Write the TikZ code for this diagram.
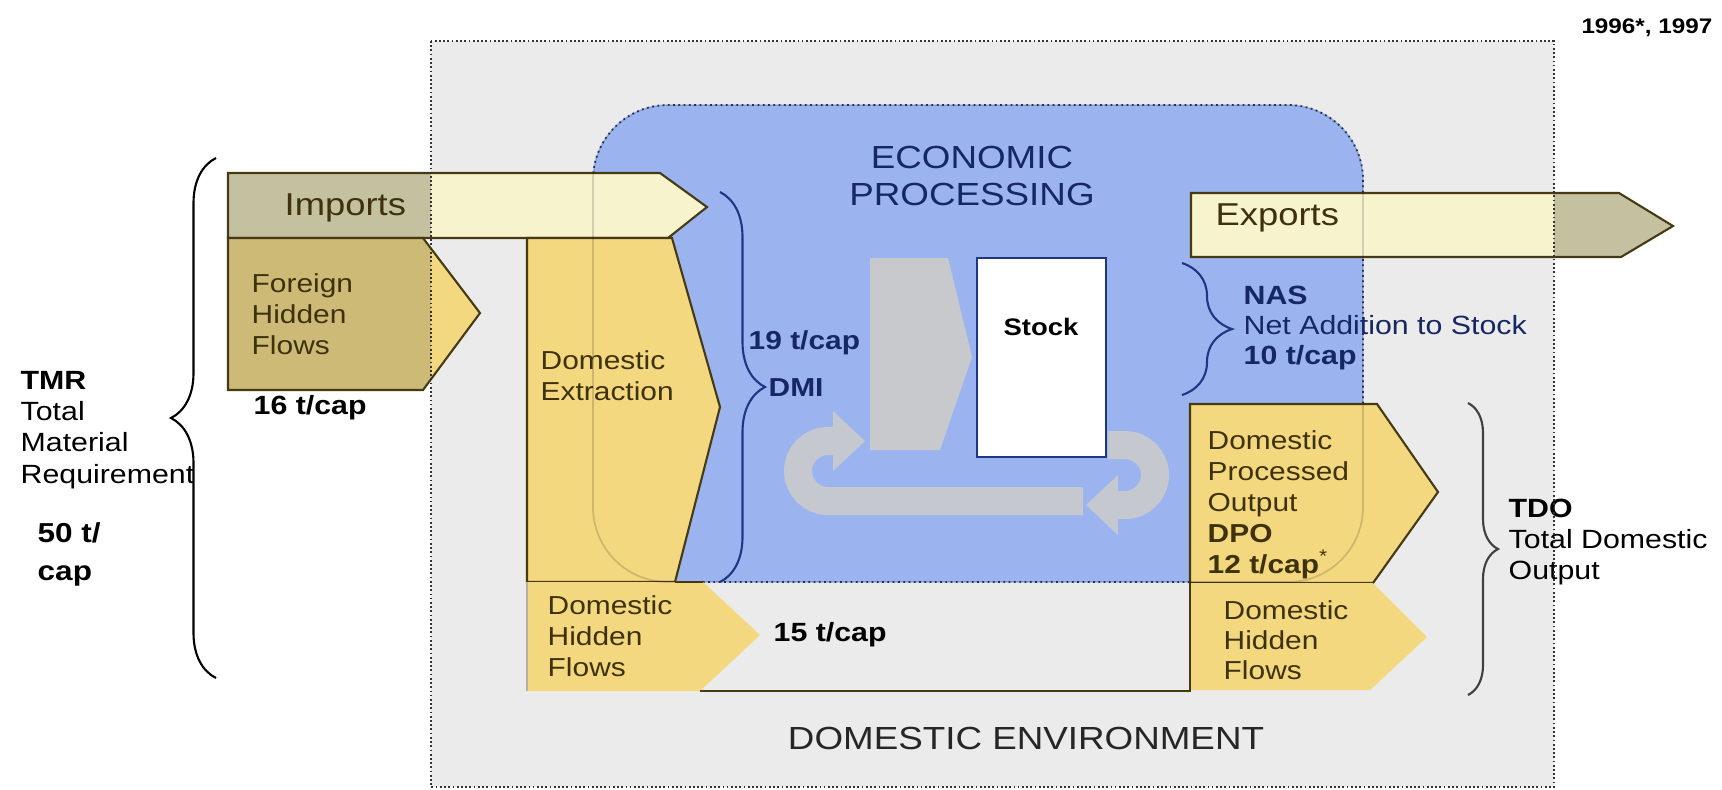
\documentclass[tikz,border=0pt]{standalone}
\usepackage{fontspec}
\setmainfont{Liberation Sans}[FakeStretch=1.15]
\usetikzlibrary{arrows.meta,decorations.pathreplacing}

\definecolor{envgray}{RGB}{235,235,235}
\definecolor{econblue}{RGB}{155,180,240}
\definecolor{flowyellow}{RGB}{243,216,128}
\definecolor{flowcream}{RGB}{247,243,205}
\definecolor{stipplegray}{RGB}{196,193,160}
\definecolor{stippleolive}{RGB}{204,186,118}
\definecolor{edgeolive}{RGB}{70,58,20}
\definecolor{navyline}{RGB}{30,55,130}
\definecolor{navytext}{RGB}{22,40,100}
\definecolor{paneltext}{RGB}{62,50,12}
\definecolor{procgray}{RGB}{200,201,205}
\definecolor{loopgray}{RGB}{198,200,208}

\tikzstyle{flow}=[draw=edgeolive, line width=0.6pt]
\tikzstyle{lbl}=[inner sep=0pt, anchor=west, align=left]
\tikzstyle{ptext}=[lbl, text=paneltext, font=\fontsize{7.4}{8.8}\selectfont]
\tikzstyle{ntext}=[lbl, text=navytext, font=\bfseries\fontsize{7.4}{8.6}\selectfont]
\tikzstyle{btext}=[lbl, font=\bfseries\fontsize{7.5}{9}\selectfont]
\tikzstyle{curly}=[decorate, line width=0.6pt]
\tikzstyle{loop}=[draw=loopgray, line width=2.8mm, -{Triangle[length=3.2mm,width=5.8mm]}]
\tikzset{leftpart/.style={path picture={\fill[#1] (0,0) rectangle (431,789);}},
  rightpart/.style={path picture={\fill[#1] (1554,0) rectangle (1722,789);}}}

\begin{document}
\begin{tikzpicture}[x=0.1mm, y=-0.1mm]
	\useasboundingbox (0,0) rectangle (1722,789);

	\fill[envgray] (431,41) rectangle (1554,787);
	\path[fill=econblue, draw=navyline, densely dotted, line width=0.5pt, rounded corners=7.5mm] (593,105) rectangle (1363,582);

	% processing, stock and the loops
	\fill[procgray] (870,258) -- (948,258) -- (972,357) -- (940,450) -- (870,450) -- cycle;
	\draw[loop] (1083,501) -- (828,501) arc[start angle=90, end angle=270, radius=30] -- (865,441);
	\draw[loop] (1108,445) -- (1125,445) arc[start angle=270, end angle=450, radius=30] -- (1086,505);
	\draw[fill=white, draw=navyline, line width=0.6pt] (977,258) rectangle (1106,457);

	% flows
	\path[flow, fill=flowcream, leftpart=stipplegray] (228,173) -- (660,173) -- (707,207) -- (668,238) -- (228,238) -- cycle;
	\path[flow, fill=flowyellow, leftpart=stippleolive] (228,238) -- (423,238) -- (480,313) -- (423,390) -- (228,390) -- cycle;
	\path[flow, fill=flowyellow] (527,238) -- (672,238) -- (720,407) -- (675,582) -- (527,582) -- cycle;
	\fill[flowyellow] (527,582) -- (703,582) -- (760,635) -- (700,691) -- (527,691) -- cycle;
	\path[flow, fill=flowyellow] (1190,404) -- (1377,404) -- (1438,492) -- (1373,583) -- (1190,583) -- cycle;
	\fill[flowyellow] (1190,583) -- (1373,583) -- (1427,637) -- (1370,690) -- (1190,690) -- cycle;
	\path[flow, fill=flowcream, rightpart=stipplegray] (1191,193) -- (1619,193) -- (1673,226) -- (1621,257) -- (1191,257) -- cycle;

	%\fill[econblue, opacity=0.1, rounded corners=7.5mm] (593,105) rectangle (1363,582);
	\draw[black, opacity=0.15, line width=0.5pt, rounded corners=7.5mm] (593,105) rectangle (1363,582);

	\draw[flow] (675,582) -- (703,582);
	\draw[flow] (700,691) -- (1190,691) -- (1190,583);
	\draw[edgeolive!40, line width=0.5pt] (527,582) -- (527,691);

	% braces
	\draw[curly, black, decoration={brace, amplitude=4.5mm}] (216,678) -- (216,158);
	\draw[curly, navyline, decoration={brace, amplitude=4.5mm}] (720,192) -- (720,582);
	\draw[curly, navyline, decoration={brace, amplitude=5mm}] (1182,263) -- (1182,395);
	\draw[curly, black!75, decoration={brace, amplitude=3mm}] (1468,403) -- (1468,695);

	\node[lbl, anchor=east, font=\bfseries\fontsize{6}{7}\selectfont] (year) at (1713,28) {1996*, 1997};
	\node[align=center, inner sep=0pt, text=navytext, font=\fontsize{9.1}{10.5}\selectfont] (econ) at (972,176) {ECONOMIC\\PROCESSING};
	\node[inner sep=0pt, font=\bfseries\fontsize{6.8}{8}\selectfont] (stock) at (1041,327) {Stock};
	\node[lbl, text=paneltext, font=\fontsize{9}{10}\selectfont] (imp) at (284,208) {Imports};
	\node[ptext] (fhf) at (251,314) {Foreign\\Hidden\\Flows};
	\node[btext] (fhfval) at (253,408) {16 t/cap};
	\node[ptext] (de) at (540,376) {Domestic\\Extraction};
	\node[ntext] (dmival) at (748,343) {19 t/cap};
	\node[ntext] (dmi) at (768,388) {DMI};
	\node[ptext] (dhfl) at (547,636) {Domestic\\Hidden\\Flows};
	\node[btext] (dhfval) at (773,635) {15 t/cap};
	\node[lbl, text=paneltext, font=\fontsize{9}{10}\selectfont] (exp) at (1215,218) {Exports};
	\node[lbl, text=navytext, font=\fontsize{7.5}{8.65}\selectfont] (nas) at (1243,328) {\textbf{NAS}\\Net Addition to Stock\\\textbf{10 t/cap}};
	\node[ptext] (dpo) at (1207,505) {Domestic\\Processed\\Output\\\textbf{DPO}\\\textbf{12 t/cap}\textsuperscript{*}};
	\node[ptext, font=\fontsize{7.4}{8.5}\selectfont] (dhfr) at (1223,640) {Domestic\\Hidden\\Flows};
	\node[lbl, font=\fontsize{7.5}{8.9}\selectfont] (tdo) at (1508,542) {\textbf{TDO}\\Total Domestic\\Output};
	\node[lbl, font=\fontsize{7.5}{8.9}\selectfont] (tmr) at (20,430) {\textbf{TMR}\\Total\\Material\\Requirement};
	\node[lbl, font=\bfseries\fontsize{7.8}{10.8}\selectfont] (tmrval) at (37,554) {50 t/\\cap};
	\node[inner sep=0pt, text=black!85, font=\fontsize{9.1}{11}\selectfont] (env) at (1026,738) {DOMESTIC ENVIRONMENT};

	% environment border
	\draw[black!80, line width=0.6pt, dash pattern=on 0.5pt off 0.7pt] (431,41) rectangle (1554,787);
\end{tikzpicture}
\end{document}
